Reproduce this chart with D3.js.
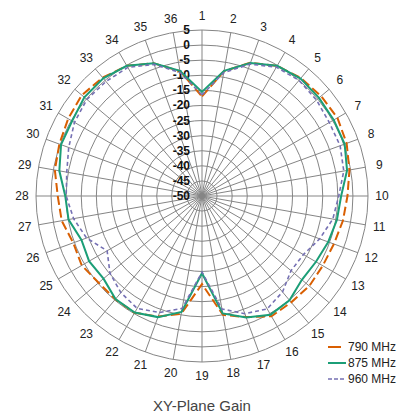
<!DOCTYPE html>
<html>
<head>
<meta charset="utf-8">
<script src="https://d3js.org/d3.v7.min.js"></script>
<title>XY-Plane Gain</title>
</head>
<style>
body {
  margin: 0;
  background: white;
}
svg {
  display: block;
  font-family: "Liberation Sans", Arial, sans-serif;
}
</style>
<body>
<svg width="402" height="418"></svg>
</body>
<script>

// spoke labels, 1 at the top, going clockwise
let spokes = d3.range(1, 37);
let ringTicks = [5, 0, -5, -10, -15, -20, -25, -30, -35, -40, -45, -50];

let seriesNames = ["790 MHz", "875 MHz", "960 MHz"];

// gain in dB, one value per spoke (1..36)
let gain790 = [-17, -8, -3, -0.2, 1, 1.5, 1.8, 1, -0.4, -1.8, -2.6, -3.5,
  -3.8, -3.6, -4, -4, -7.3, -10, -20.8, -10.4, -7.5, -5.3, -5.3, -5.3,
  -4, -4.6, -2.8, -2.2, -0.5, 0.3, 1.2, 2, 1.2, -0.2, -3.2, -8];
let gain875 = [-15.5, -7.9, -3.1, -0.2, 0.8, 0.6, 0.4, 0.3, -1.2, -3.9, -4.6, -5.5,
  -6.4, -6.8, -4.9, -4.6, -7.2, -10.5, -24.4, -11, -7.3, -5.4, -5.4, -7.4,
  -6.8, -7.5, -5.1, -4.7, -2, -0.3, -0.3, 0.9, 0.9, -0.2, -3.2, -7.9];
let gain960 = [-16.5, -8.5, -3.5, -0.7, 0, -0.5, -1.3, -1.3, -2.3, -4.7, -6, -8.5,
  -11.2, -11.5, -8.5, -6.8, -8.5, -12, -24.8, -12.2, -8.9, -7, -8.2, -10.2,
  -13.7, -9.3, -6.8, -5, -4.5, -3, -1.2, -0.2, -0.5, -0.8, -3.6, -8.5];

let colors = ["#d95f02", "#1b9e77", "#7570b3"];
let dashes = ["9,4", null, "4,3"];
let widths = [2, 2, 1.6];

let cx = 202, cy = 196;
let R = 166;

let svg = d3.select("svg");

let r = d3.scaleLinear().domain([-50, 5]).range([0, R]);
let angle = d3.scaleLinear().domain([1, 37]).range([0, 2 * Math.PI]);

let g = svg.append("g").attr("transform", "translate(" + cx + "," + cy + ")");

function drawGrid() {
  g.selectAll("circle.ring")
    .data(ringTicks.filter(function(d) { return d > -50; }))
    .enter().append("circle")
      .attr("class", "ring")
      .attr("r", function(d) { return r(d); })
      .attr("fill", "none")
      .attr("stroke", "#858585")
      .attr("stroke-width", 1);

  g.selectAll("line.spoke")
    .data(spokes)
    .enter().append("line")
      .attr("class", "spoke")
      .attr("x1", 0).attr("y1", 0)
      .attr("x2", function(d) { return R * Math.sin(angle(d)); })
      .attr("y2", function(d) { return -R * Math.cos(angle(d)); })
      .attr("stroke", "#858585")
      .attr("stroke-width", 1);

  g.selectAll("text.spoke")
    .data(spokes)
    .enter().append("text")
      .attr("class", "spoke")
      .attr("x", function(d) { return 180 * Math.sin(angle(d)); })
      .attr("y", function(d) { return -180 * Math.cos(angle(d)); })
      .attr("text-anchor", "middle")
      .attr("dominant-baseline", "central")
      .attr("font-size", 12)
      .attr("fill", "#222")
      .text(function(d) { return d; });

  g.selectAll("text.ring")
    .data(ringTicks)
    .enter().append("text")
      .attr("class", "ring")
      .attr("x", -12)
      .attr("y", function(d) { return -r(d); })
      .attr("text-anchor", "end")
      .attr("dominant-baseline", "central")
      .attr("font-size", 12)
      .attr("font-weight", "bold")
      .attr("fill", "#111")
      .text(function(d) { return d; });
}

function drawSeries() {
  let line = d3.lineRadial()
    .angle(function(d, i) { return angle(i + 1); })
    .radius(function(d) { return r(d); })
    .curve(d3.curveLinearClosed);

  g.selectAll("path.series")
    .data([gain790, gain875, gain960])
    .enter().append("path")
      .attr("class", "series")
      .attr("d", line)
      .attr("fill", "none")
      .attr("stroke", function(d, i) { return colors[i]; })
      .attr("stroke-width", function(d, i) { return widths[i]; })
      .attr("stroke-dasharray", function(d, i) { return dashes[i]; });
}

function drawLegend() {
  let ys = [347, 363, 379];
  let leg = svg.append("g");
  seriesNames.forEach(function(name, i) {
    leg.append("line")
      .attr("x1", 328).attr("x2", i == 0 ? 341 : 346)
      .attr("y1", ys[i]).attr("y2", ys[i])
      .attr("stroke", colors[i])
      .attr("stroke-width", widths[i])
      .attr("stroke-dasharray", i == 2 ? "4,2" : null);
    leg.append("text")
      .attr("x", 396)
      .attr("y", ys[i])
      .attr("text-anchor", "end")
      .attr("dominant-baseline", "central")
      .attr("font-size", 12)
      .attr("fill", "#222")
      .text(name);
  });
}

function drawTitle() {
  svg.append("text")
    .attr("x", 202)
    .attr("y", 405)
    .attr("text-anchor", "middle")
    .attr("dominant-baseline", "central")
    .attr("font-size", 15)
    .attr("fill", "#444")
    .text("XY-Plane Gain");
}

drawGrid();
drawSeries();
drawLegend();
drawTitle();

</script>
</html>
